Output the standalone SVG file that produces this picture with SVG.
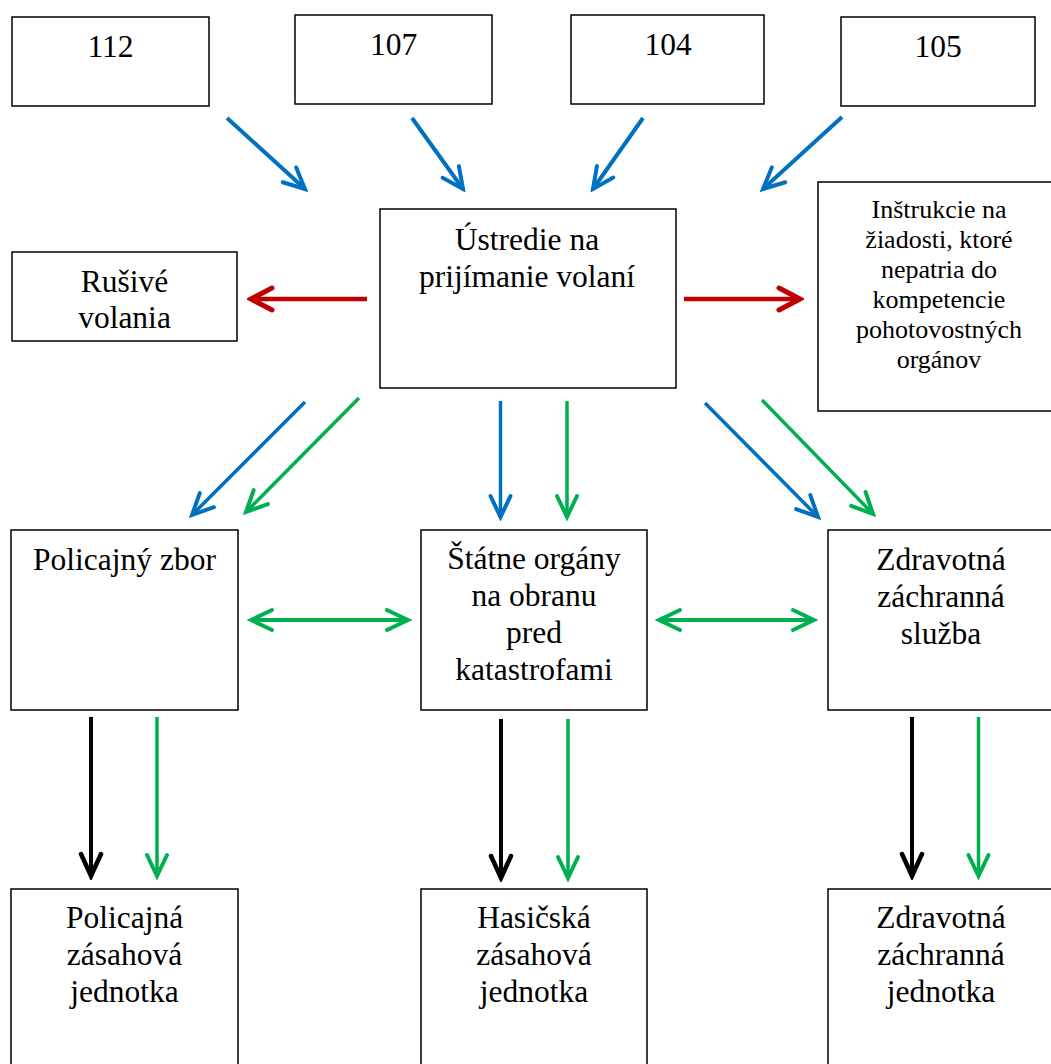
<svg xmlns="http://www.w3.org/2000/svg" width="1051" height="1064" viewBox="0 0 1051 1064">
<style>
.box{fill:#fff;stroke:#000;stroke-width:1.5}
.t{font-family:"Liberation Serif","Times New Roman",serif;font-size:31.5px;fill:#000;text-anchor:middle}
.ts{font-family:"Liberation Serif","Times New Roman",serif;font-size:26px;fill:#000;text-anchor:middle}
.blue{stroke:#0070C0;fill:none}
.green{stroke:#00B050;fill:none}
.red{stroke:#C00000;fill:none}
.black{stroke:#000;fill:none}
</style>
<defs>
<marker id="mb" markerUnits="userSpaceOnUse" viewBox="-26 -14 30 28" markerWidth="30" markerHeight="28" refX="0" refY="0" orient="auto"><path d="M-21,-10 L0,0 L-21,10" fill="none" stroke="#0070C0" stroke-width="4" stroke-linecap="round"/></marker>
<marker id="mg" markerUnits="userSpaceOnUse" viewBox="-26 -14 30 28" markerWidth="30" markerHeight="28" refX="0" refY="0" orient="auto-start-reverse"><path d="M-21,-10 L0,0 L-21,10" fill="none" stroke="#00B050" stroke-width="4" stroke-linecap="round"/></marker>
<marker id="mr" markerUnits="userSpaceOnUse" viewBox="-26 -14 30 28" markerWidth="30" markerHeight="28" refX="0" refY="0" orient="auto"><path d="M-21,-11 L0,0 L-21,11" fill="none" stroke="#C00000" stroke-width="5" stroke-linecap="round"/></marker>
<marker id="mk" markerUnits="userSpaceOnUse" viewBox="-26 -14 30 28" markerWidth="30" markerHeight="28" refX="0" refY="0" orient="auto"><path d="M-22,-10 L0,0 L-22,10" fill="none" stroke="#000" stroke-width="4.5" stroke-linecap="round"/></marker>
</defs>
<rect width="1051" height="1064" fill="#fff"/>

<g id="n112"><rect class="box" x="12" y="17" width="197" height="89"/><text class="t" x="110.5" y="57">112</text></g>
<g id="n107"><rect class="box" x="295" y="15" width="197" height="89"/><text class="t" x="393.5" y="55">107</text></g>
<g id="n104"><rect class="box" x="571" y="15" width="193" height="89"/><text class="t" x="668" y="55">104</text></g>
<g id="n105"><rect class="box" x="841" y="17" width="194" height="89"/><text class="t" x="938" y="57">105</text></g>

<g id="ustredie"><rect class="box" x="380" y="209" width="296" height="179"/><text class="t" x="527" y="250">Ústredie na</text><text class="t" x="527" y="287">prijímanie volaní</text></g>
<g id="rusive"><rect class="box" x="12" y="252" width="225" height="89"/><text class="t" x="124.5" y="292">Rušivé</text><text class="t" x="124.5" y="328">volania</text></g>
<g id="instrukcie"><rect class="box" x="818" y="182" width="245" height="229"/>
<text class="ts" x="939" y="218">Inštrukcie na</text><text class="ts" x="939" y="248">žiadosti, ktoré</text><text class="ts" x="939" y="278">nepatria do</text><text class="ts" x="939" y="308">kompetencie</text><text class="ts" x="939" y="338">pohotovostných</text><text class="ts" x="939" y="368">orgánov</text></g>

<g id="policajny-zbor"><rect class="box" x="11" y="530" width="227" height="180"/><text class="t" x="124.5" y="570">Policajný zbor</text></g>
<g id="statne-organy"><rect class="box" x="421" y="530" width="226" height="180"/><text class="t" x="534" y="569">Štátne orgány</text><text class="t" x="534" y="606">na obranu</text><text class="t" x="534" y="643">pred</text><text class="t" x="534" y="680">katastrofami</text></g>
<g id="zdravotna-sluzba"><rect class="box" x="828" y="530" width="240" height="180"/><text class="t" x="941" y="570">Zdravotná</text><text class="t" x="941" y="607">záchranná</text><text class="t" x="941" y="644">služba</text></g>

<g id="policajna-jednotka"><rect class="box" x="11" y="889" width="227" height="190"/><text class="t" x="124.5" y="928">Policajná</text><text class="t" x="124.5" y="965">zásahová</text><text class="t" x="124.5" y="1002">jednotka</text></g>
<g id="hasicska-jednotka"><rect class="box" x="421" y="889" width="226" height="190"/><text class="t" x="534" y="928">Hasičská</text><text class="t" x="534" y="965">zásahová</text><text class="t" x="534" y="1002">jednotka</text></g>
<g id="zdravotna-jednotka"><rect class="box" x="828" y="889" width="240" height="190"/><text class="t" x="941" y="928">Zdravotná</text><text class="t" x="941" y="965">záchranná</text><text class="t" x="941" y="1002">jednotka</text></g>

<g id="connectors">
<line class="blue" x1="227" y1="118" x2="305" y2="189" stroke-width="4" marker-end="url(#mb)"/>
<line class="blue" x1="412" y1="118" x2="463" y2="189" stroke-width="4" marker-end="url(#mb)"/>
<line class="blue" x1="643" y1="118" x2="593" y2="189" stroke-width="4" marker-end="url(#mb)"/>
<line class="blue" x1="842" y1="117" x2="763" y2="189" stroke-width="4" marker-end="url(#mb)"/>

<line class="red" x1="367" y1="299" x2="251" y2="299" stroke-width="4.5" marker-end="url(#mr)"/>
<line class="red" x1="684" y1="299" x2="800" y2="299" stroke-width="4.5" marker-end="url(#mr)"/>

<line class="blue" x1="305" y1="402" x2="192" y2="515" stroke-width="3.5" marker-end="url(#mb)"/>
<line class="green" x1="359" y1="398" x2="246" y2="512" stroke-width="3.5" marker-end="url(#mg)"/>
<line class="blue" x1="500.5" y1="401" x2="500.5" y2="517" stroke-width="3.5" marker-end="url(#mb)"/>
<line class="green" x1="567" y1="401" x2="567" y2="517" stroke-width="3.5" marker-end="url(#mg)"/>
<line class="blue" x1="705" y1="403" x2="818" y2="517" stroke-width="3.5" marker-end="url(#mb)"/>
<line class="green" x1="762" y1="400" x2="873" y2="514" stroke-width="3.5" marker-end="url(#mg)"/>

<line class="green" x1="251" y1="620" x2="408" y2="620" stroke-width="4" marker-start="url(#mg)" marker-end="url(#mg)"/>
<line class="green" x1="659" y1="620" x2="814" y2="620" stroke-width="4" marker-start="url(#mg)" marker-end="url(#mg)"/>

<line class="black" x1="91" y1="717" x2="91" y2="876" stroke-width="4" marker-end="url(#mk)"/>
<line class="green" x1="157" y1="717" x2="157" y2="876" stroke-width="3.5" marker-end="url(#mg)"/>
<line class="black" x1="501" y1="719" x2="501" y2="878" stroke-width="4" marker-end="url(#mk)"/>
<line class="green" x1="568" y1="719" x2="568" y2="878" stroke-width="3.5" marker-end="url(#mg)"/>
<line class="black" x1="912" y1="717" x2="912" y2="876" stroke-width="4" marker-end="url(#mk)"/>
<line class="green" x1="978.5" y1="717" x2="978.5" y2="876" stroke-width="3.5" marker-end="url(#mg)"/>
</g>
</svg>
